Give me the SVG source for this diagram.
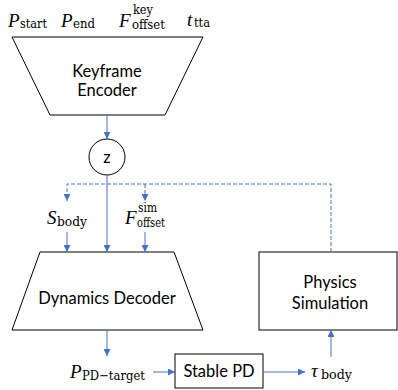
<svg xmlns="http://www.w3.org/2000/svg" width="398" height="390" viewBox="0 0 398 390">
<defs>
<marker id="ah" viewBox="0 0 8 8" refX="8" refY="4" markerWidth="7" markerHeight="7" markerUnits="userSpaceOnUse" orient="auto">
<path d="M0,0 L8,4 L0,8 z" fill="#4472C4"/>
</marker>
<style>
.shape{fill:#fff;stroke:#000;stroke-width:1}
.lbl{font-family:Lato,"Liberation Sans",sans-serif;font-size:16.5px;fill:#000;text-anchor:middle}
.m{font-family:"Liberation Serif","DejaVu Serif",serif;fill:#000}
.mi{font-style:italic;font-size:19px}
.ms{font-family:"DejaVu Serif","Liberation Serif",serif;font-size:13px}
.c{fill:none;stroke:#4472C4;stroke-width:1}
.d{fill:none;stroke:#4472C4;stroke-width:1;stroke-dasharray:4 2}
</style>
</defs>
<rect width="398" height="390" fill="#fff"/>

<g id="labels-top">
<text class="m" y="27"><tspan class="mi" x="8">P</tspan><tspan class="ms" x="20" y="28" textLength="27" lengthAdjust="spacingAndGlyphs">start</tspan></text>
<text class="m" y="27"><tspan class="mi" x="61">P</tspan><tspan class="ms" x="73" y="28" textLength="22" lengthAdjust="spacingAndGlyphs">end</tspan></text>
<text class="m" y="27"><tspan class="mi" x="119">F</tspan><tspan class="ms" x="133" y="14" textLength="20" lengthAdjust="spacingAndGlyphs">key</tspan><tspan class="ms" x="132" y="29" textLength="33" lengthAdjust="spacingAndGlyphs">offset</tspan></text>
<text class="m" y="26"><tspan class="mi" x="187">t</tspan><tspan class="ms" x="194" y="27" textLength="16" lengthAdjust="spacingAndGlyphs">tta</tspan></text>
</g>

<g id="keyframe-encoder">
<polygon class="shape" points="12,37 203,37 165,115 50,115"/>
<text class="lbl" x="107" y="77">Keyframe</text>
<text class="lbl" x="107" y="96">Encoder</text>
</g>

<g id="z">
<circle class="shape" cx="107" cy="157" r="18"/>
<text class="lbl" x="107" y="163">z</text>
</g>

<g id="s-body">
<text class="m" y="224"><tspan class="mi" x="47">S</tspan><tspan class="ms" x="57" y="226" textLength="30" lengthAdjust="spacingAndGlyphs">body</tspan></text>
</g>
<g id="f-offset-sim">
<text class="m" y="224"><tspan class="mi" x="125">F</tspan><tspan class="ms" x="138" y="212" textLength="19" lengthAdjust="spacingAndGlyphs">sim</tspan><tspan class="ms" x="137" y="227" textLength="28" lengthAdjust="spacingAndGlyphs">offset</tspan></text>
</g>

<g id="dynamics-decoder">
<polygon class="shape" points="40,252 174,252 203,330 12,330"/>
<text class="lbl" x="107" y="304">Dynamics Decoder</text>
</g>

<g id="p-pd-target">
<text class="m" y="378"><tspan class="mi" x="70">P</tspan><tspan class="ms" x="82" y="380" textLength="63" lengthAdjust="spacingAndGlyphs">PD−target</tspan></text>
</g>

<g id="stable-pd">
<rect class="shape" x="175" y="354" width="88" height="34"/>
<text class="lbl" x="219" y="377">Stable PD</text>
</g>

<g id="tau-body">
<text class="m" y="377"><tspan class="mi" x="311">τ</tspan><tspan class="ms" x="321" y="379" textLength="31" lengthAdjust="spacingAndGlyphs">body</tspan></text>
</g>

<g id="physics-simulation">
<rect class="shape" x="259" y="252" width="138" height="78"/>
<text class="lbl" x="330" y="288">Physics</text>
<text class="lbl" x="330" y="309">Simulation</text>
</g>

<g id="connectors">
<line class="c" x1="107" y1="115" x2="107" y2="139" marker-end="url(#ah)"/>
<line class="c" x1="107" y1="175" x2="107" y2="252" marker-end="url(#ah)"/>
<polyline class="d" points="331,252 331,184 67,184 67,201" marker-end="url(#ah)"/>
<line class="d" x1="145" y1="184" x2="145" y2="201" marker-end="url(#ah)"/>
<line class="c" x1="67" y1="232" x2="67" y2="252" marker-end="url(#ah)"/>
<line class="c" x1="145" y1="232" x2="145" y2="252" marker-end="url(#ah)"/>
<line class="c" x1="107" y1="330" x2="107" y2="356" marker-end="url(#ah)"/>
<line class="c" x1="153" y1="372" x2="175" y2="372" marker-end="url(#ah)"/>
<line class="c" x1="263" y1="372" x2="305" y2="372" marker-end="url(#ah)"/>
<line class="c" x1="331" y1="357" x2="331" y2="330" marker-end="url(#ah)"/>
</g>
</svg>
